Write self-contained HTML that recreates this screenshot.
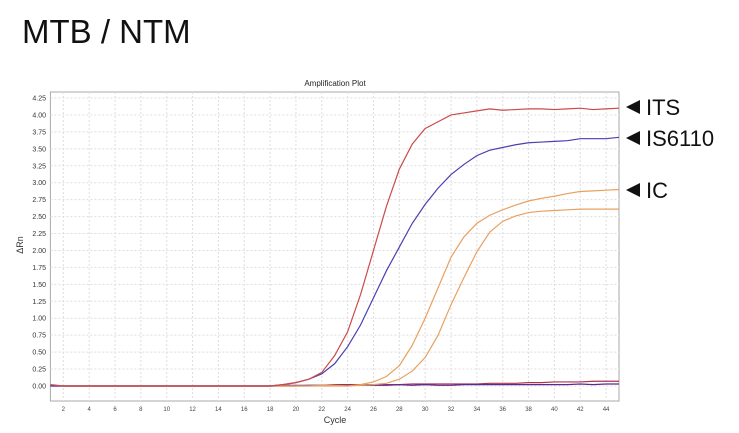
<!DOCTYPE html>
<html><head><meta charset="utf-8"><style>
body{margin:0;background:#fff;width:739px;height:433px;overflow:hidden;font-family:"Liberation Sans",sans-serif}
svg{position:absolute;left:0;top:0}
</style></head><body>
<svg width="739" height="433">
<text x="22" y="43" font-size="33" fill="#111">MTB / NTM</text>
<text x="335" y="86" font-size="8" fill="#222" text-anchor="middle">Amplification Plot</text>
<g id="grid"></g>
<g id="axes"></g>
<g id="series"></g>
<text x="335" y="423" font-size="9" fill="#333" text-anchor="middle">Cycle</text>
<text x="23" y="245" font-size="9" fill="#333" text-anchor="middle" transform="rotate(-90 23 245)">ΔRn</text>
<g><polygon points="626,107 640,100 640,114" fill="#111"/><text x="646" y="115" font-size="22" fill="#111">ITS</text></g>
<g><polygon points="626,138 640,131 640,145" fill="#111"/><text x="646" y="146" font-size="22" fill="#111">IS6110</text></g>
<g><polygon points="626,190 640,183 640,197" fill="#111"/><text x="646" y="198" font-size="22" fill="#111">IC</text></g>
</svg>
<script>
const cycles=[];for(let c=1;c<=45;c++)cycles.push(c);
const xTicks=[2,4,6,8,10,12,14,16,18,20,22,24,26,28,30,32,34,36,38,40,42,44];
const yTicks=[0,0.25,0.5,0.75,1,1.25,1.5,1.75,2,2.25,2.5,2.75,3,3.25,3.5,3.75,4,4.25];
const its=[0.02,0,0,0,0,0,0,0,0,0,0,0,0,0,0,0,0,0,0.02,0.05,0.1,0.2,0.45,0.8,1.35,2.0,2.65,3.2,3.57,3.8,3.9,4.0,4.03,4.06,4.09,4.07,4.08,4.09,4.09,4.08,4.09,4.1,4.08,4.09,4.1];
const is6110=[0,0,0,0,0,0,0,0,0,0,0,0,0,0,0,0,0,0,0.02,0.05,0.1,0.18,0.33,0.58,0.9,1.3,1.7,2.05,2.4,2.68,2.92,3.12,3.27,3.4,3.48,3.52,3.56,3.59,3.6,3.61,3.62,3.65,3.65,3.65,3.67];
const ic1=[0.01,0,0,0,0,0,0,0,0,0,0,0,0,0,0,0,0,0,0,0,0,0.01,0.01,0,0.02,0.06,0.14,0.3,0.6,1.0,1.45,1.9,2.2,2.4,2.52,2.6,2.67,2.73,2.77,2.8,2.84,2.87,2.88,2.89,2.9];
const ic2=[0.01,0,0,0,0,0,0,0,0,0,0,0,0,0,0,0,0,0,0,0,0,0,0,0,0.01,0.02,0.04,0.1,0.22,0.42,0.75,1.2,1.6,1.98,2.27,2.43,2.51,2.56,2.58,2.59,2.6,2.61,2.61,2.61,2.61];
const neg1=[0.01,0,0,0,0,0,0,0,0,0,0,0,0,0,0,0,0,0,0,0,0.01,0.01,0.02,0.02,0.02,0.02,0.02,0.02,0.03,0.03,0.03,0.03,0.03,0.03,0.04,0.04,0.04,0.05,0.05,0.06,0.06,0.06,0.07,0.07,0.07];
const neg2=[0,0,0,0,0,0,0,0,0,0,0,0,0,0,0,0,0,0,0.01,0.01,0.01,0.01,0.01,0.01,0.01,0.01,0.01,0.02,0.01,0.02,0.01,0.01,0.02,0.02,0.02,0.02,0.02,0.02,0.02,0.02,0.02,0.03,0.02,0.03,0.03];
const L=50.4,R=619,T=92,B=401;
const X=c=>L+(c-1)*(R-L)/44;
const Y=v=>386-v*67.76;
const ns="http://www.w3.org/2000/svg";
function mk(tag,attrs,parent){const e=document.createElementNS(ns,tag);for(const k in attrs)e.setAttribute(k,attrs[k]);parent.appendChild(e);return e;}
const grid=document.getElementById('grid'),axes=document.getElementById('axes'),ser=document.getElementById('series');
mk('rect',{x:L,y:T,width:R-L,height:B-T,fill:'#fff',stroke:'#aaa','stroke-width':1},grid);
xTicks.forEach(t=>{const l=mk('line',{x1:X(t),x2:X(t),y1:T,y2:B,stroke:'#ddd','stroke-dasharray':'2,2'},grid);

const tx=mk('text',{x:X(t),y:B+10,'font-size':6,fill:'#444','text-anchor':'middle'},axes);tx.textContent=t;
});
yTicks.forEach(t=>{const l=mk('line',{x1:L,x2:R,y1:Y(t),y2:Y(t),stroke:'#ddd','stroke-dasharray':'2,2'},grid);

const tx=mk('text',{x:46,y:Y(t)+2.5,'font-size':7,fill:'#333','text-anchor':'end'},axes);tx.textContent=t.toFixed(2);
});
const list=[[neg1,'#b03050','negative-control-1'],[neg2,'#5a2a90','negative-control-2'],[ic2,'#e8a060','ic-curve-2'],[ic1,'#e8a060','ic-curve-1'],[is6110,'#4a3fb0','is6110-curve'],[its,'#cc4a4a','its-curve']];
list.forEach(([d,col,name])=>{const p=mk('polyline',{points:d.map((v,i)=>X(cycles[i])+','+Y(v)).join(' '),fill:'none',stroke:col,'stroke-width':1.2},ser);
});
</script>
</body></html>
